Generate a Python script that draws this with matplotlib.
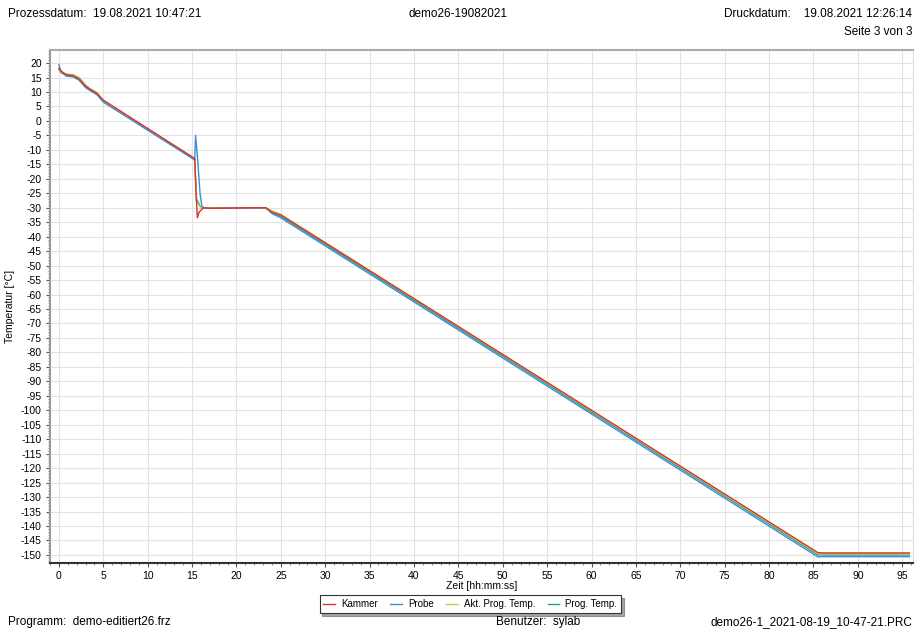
import matplotlib.pyplot as plt
from matplotlib.ticker import MultipleLocator

plt.rcParams['font.family'] = ['Liberation Sans', 'DejaVu Sans']
plt.rcParams['axes.unicode_minus'] = False

# Zeit in Minuten, Temperatur in °C
kammer_t = [0, 0.3, 0.9, 1.6, 2.3, 3.0, 3.5, 4.3, 5.0, 15.3, 15.45, 15.6, 15.8, 16.3,
            17.0, 23.3, 24.0, 25.0, 85.5, 86.0, 95.8]
kammer_T = [18.2, 17.0, 15.9, 15.7, 14.5, 12.0, 11.0, 9.5, 7.2, -13.0, -25.0, -33.5,
            -31.5, -30.0, -30.2, -30.0, -31.5, -32.5, -149.2, -149.3, -149.3]

probe_t = [0, 0.2, 0.8, 1.6, 2.3, 3.0, 3.5, 4.3, 5.0, 15.3, 15.4, 15.6, 15.9, 16.1,
           16.5, 17.0, 23.3, 24.0, 25.0, 85.5, 86.0, 95.8]
probe_T = [19.5, 17.5, 15.5, 15.2, 14.0, 11.5, 10.5, 9.0, 6.5, -13.5, -5.0, -12.0,
           -25.0, -29.5, -30.2, -30.2, -30.0, -32.0, -33.5, -150.7, -150.6, -150.6]

akt_t = [0, 0.3, 0.9, 1.6, 2.3, 3.0, 3.5, 4.3, 5.0, 15.3, 15.5, 16.0, 17.0, 23.3,
         24.0, 25.0, 85.5, 86.0, 95.8]
akt_T = [18.0, 16.8, 16.2, 16.0, 15.0, 12.5, 11.2, 9.8, 7.0, -13.0, -28.0, -30.0,
         -30.0, -30.0, -31.0, -32.3, -149.5, -149.6, -149.6]

prog_t = [0, 0.3, 0.9, 1.6, 2.3, 3.0, 3.5, 4.3, 5.0, 15.3, 15.5, 16.0, 17.0, 23.3,
          24.0, 25.0, 85.5, 86.0, 95.8]
prog_T = [17.8, 16.5, 15.8, 15.5, 14.6, 12.2, 11.0, 9.6, 6.8, -13.2, -27.0, -30.0,
          -30.0, -30.0, -31.8, -33.0, -150.0, -150.0, -150.0]

fig = plt.figure(figsize=(9.16, 6.30), dpi=100)
ax = fig.add_axes([0.0546, 0.1063, 0.942, 0.8143])

ax.plot(kammer_t, kammer_T, color='#e0302c', lw=1.0, label='Kammer', zorder=5)
ax.plot(probe_t, probe_T, color='#3b8fd8', lw=1.0, label='Probe', zorder=4)
ax.plot(akt_t, akt_T, color='#b5d64a', lw=1.0, label='Akt. Prog. Temp.', zorder=3)
ax.plot(prog_t, prog_T, color='#2d9b8c', lw=1.0, label='Prog. Temp.', zorder=2)

ax.set_xlim(-1.0, 96.2)
ax.set_ylim(-152.8, 24.5)
ax.xaxis.set_major_locator(MultipleLocator(5))
ax.xaxis.set_minor_locator(MultipleLocator(1))
ax.yaxis.set_major_locator(MultipleLocator(5))
ax.yaxis.set_minor_locator(MultipleLocator(1))
ax.tick_params(which='major', labelsize=7.5, length=3, color='#555555', pad=3)
ax.tick_params(which='minor', length=1.5, color='#777777')
ax.grid(True, which='major', color='#e3e3e3', lw=0.8)
ax.set_axisbelow(True)

ax.spines['left'].set_color('#999999')
ax.spines['left'].set_linewidth(1.5)
ax.spines['bottom'].set_color('#333333')
ax.spines['bottom'].set_linewidth(1.5)
ax.spines['top'].set_color('#aaaaaa')
ax.spines['top'].set_linewidth(1.5)
ax.spines['right'].set_color('#dddddd')

ax.set_xlabel('Zeit [hh:mm:ss]', fontsize=7.5)
ax.xaxis.set_label_coords(0.5, -0.035)
ax.set_ylabel('Temperatur [°C]', fontsize=7.5)
ax.yaxis.set_label_coords(-0.041, 0.5)

leg = ax.legend(loc='upper center', bbox_to_anchor=(0.487, -0.053), ncol=4, fontsize=7,
                frameon=True, fancybox=False, shadow=True, handlelength=1.2,
                columnspacing=1.3, handletextpad=0.6, borderpad=0.4)
leg.get_frame().set_edgecolor('#333333')
leg.get_frame().set_linewidth(0.8)

fs = 8.5
fig.text(8 / 916, 1 - 14 / 630, 'Prozessdatum:  19.08.2021 10:47:21', fontsize=fs, va='center')
fig.text(458 / 916, 1 - 14 / 630, 'demo26-19082021', fontsize=fs, va='center', ha='center')
fig.text(912 / 916, 1 - 14 / 630, 'Druckdatum:    19.08.2021 12:26:14', fontsize=fs,
         va='center', ha='right')
fig.text(912 / 916, 1 - 32 / 630, 'Seite 3 von 3', fontsize=fs, va='center', ha='right')
fig.text(8 / 916, 1 - 622 / 630, 'Programm:  demo-editiert26.frz', fontsize=fs, va='center')
fig.text(538 / 916, 1 - 622 / 630, 'Benutzer:  sylab', fontsize=fs, va='center', ha='center')
fig.text(912 / 916, 1 - 622 / 630, 'demo26-1_2021-08-19_10-47-21.PRC', fontsize=fs,
         va='center', ha='right')

fig.savefig('out.png', dpi=100)
